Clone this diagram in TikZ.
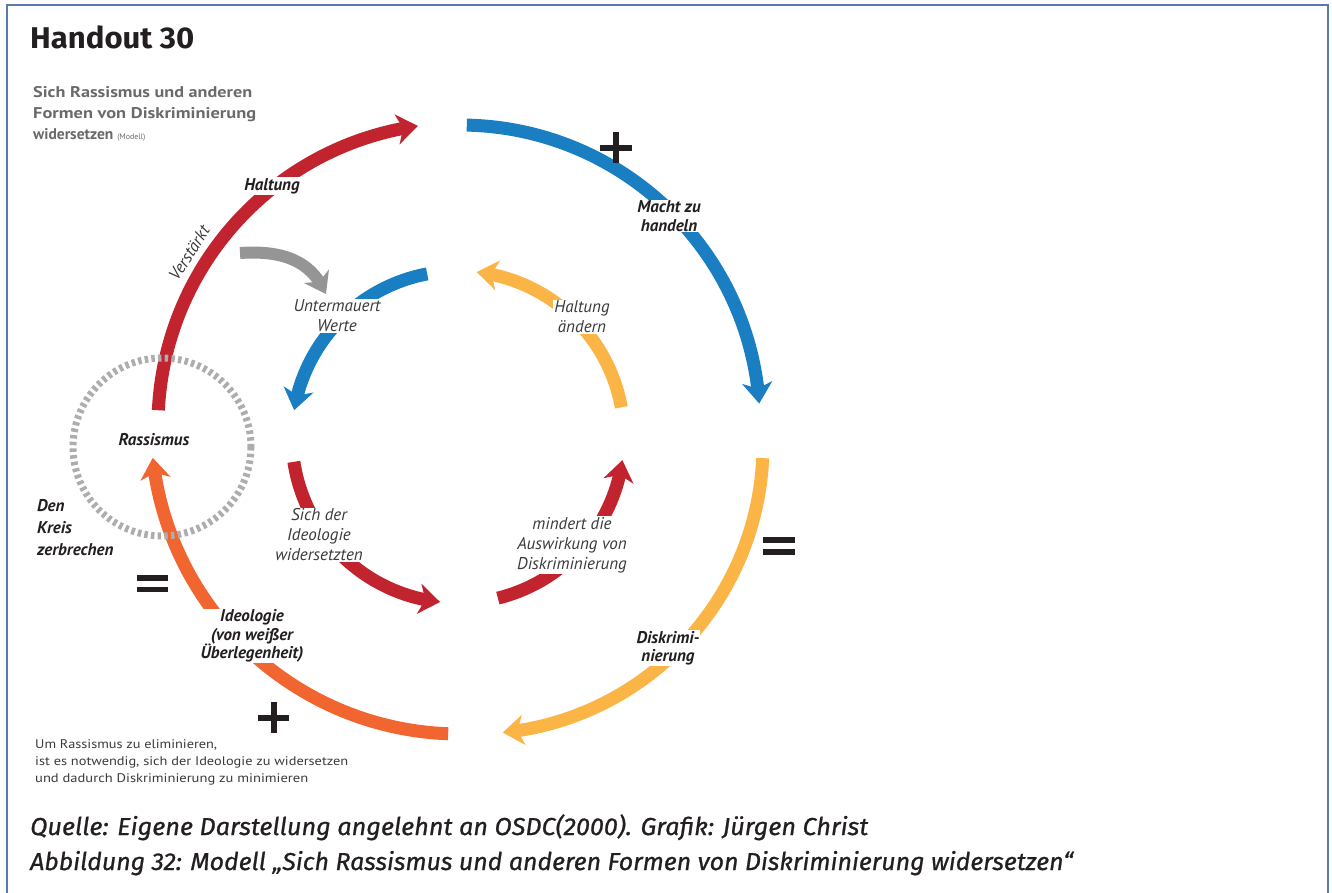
\documentclass[tikz,border=0pt]{standalone}
\usepackage{graphicx}
\usepackage{fontspec}
\setmainfont{PT Sans}
\newfontfamily\headfont{Fira Sans}
\newfontfamily\capfont{Fira Sans}[FakeBold=0.8]
\usetikzlibrary{arrows.meta,bending,calc}

\definecolor{frameblue}{HTML}{5B7BA9}
\definecolor{cred}{HTML}{C1232F}
\definecolor{cblue}{HTML}{1A7EC2}
\definecolor{cyellow}{HTML}{FBB546}
\definecolor{corange}{HTML}{F06530}
\definecolor{cgray}{HTML}{959595}
\definecolor{dashgray}{HTML}{ADADAD}
\definecolor{ink}{HTML}{231F20}
\definecolor{softink}{HTML}{3A3A3A}
\definecolor{subgray}{HTML}{6A6A6A}

% stretch a line horizontally to a given width, keeping its height
\newcommand\fitw[2]{\resizebox{#1}{\height}{#2}}

\tikzset{
  flow/.style={line width=13pt, -{Stealth[length=21pt,width=30pt,inset=6pt]}},
  lbl/.style={font=\fontsize{17}{20}\selectfont\itshape, text=softink,
              align=center, fill=white, inner sep=1pt},
  key/.style={font=\fontsize{17}{18.5}\selectfont\bfseries\itshape, text=ink,
              align=center, fill=white, inner sep=1pt},
  plain/.style={anchor=base west, inner sep=0pt},
  sign/.style={fill=ink},
}

\begin{document}
\begin{tikzpicture}[x=1pt,y=-1pt]
\useasboundingbox (0,0) rectangle (1332,892);

% page frame
\draw[frameblue, line width=2.4pt] (7,5.2) rectangle (1328,905);

% title and heading
\node[plain, text=ink] (title) at (30,48)
  {\headfont\bfseries\fontsize{30}{30}\selectfont\fitw{164pt}{Handout 30}};
\node[plain, text=subgray, font=\fontsize{15.5}{18}\selectfont\bfseries] (sub1) at (33,97)
  {\fitw{219pt}{Sich Rassismus und anderen}};
\node[plain, text=subgray, font=\fontsize{15.5}{18}\selectfont\bfseries] (sub2) at (33,118)
  {\fitw{223pt}{Formen von Diskriminierung}};
\node[plain, text=subgray, font=\fontsize{15.5}{18}\selectfont\bfseries] (sub3) at (33,139)
  {widersetzen {\fontsize{8}{8}\selectfont\mdseries(Modell)}};

% centres of the two rings and of the dashed circle
\coordinate (O) at (460,425);
\coordinate (Y) at (474,445);
\coordinate (I) at (458,437);
\coordinate (R) at (162,447);

% outer ring
\draw[flow, cred]    (O) ++(182.8:302) arc[start angle=182.8, end angle=262,   radius=302];
\draw[flow, cblue]   (O) ++(271.3:300) arc[start angle=271.3, end angle=355.9, radius=300];
\draw[flow, cyellow] (Y) ++(2.6:289)   arc[start angle=2.6,   end angle=84.3,  radius=289];
\draw[flow, corange] (O) ++(92.2:309)  arc[start angle=92.2,  end angle=173.9, radius=309];

% inner ring
\draw[flow, cblue]   (I) ++(259.3:166) arc[start angle=259.3, end angle=189.3, radius=166];
\draw[flow, cyellow] (I) ++(349.7:166) arc[start angle=349.7, end angle=276.5, radius=166];
\draw[flow, cred]    (I) ++(171.4:166) arc[start angle=171.4, end angle=96.2,  radius=166];
\draw[flow, cred]    (I) ++(76.1:166)  arc[start angle=76.1,  end angle=8,     radius=166];

% grey link from the outer to the inner ring
\coordinate (g0) at (240,253);
\coordinate (g1) at (326,294);
\draw[line width=12pt, cgray, -{Stealth[length=20pt,width=28pt,inset=6pt]}]
  (g0) .. controls (285,250) and (312,262) .. (g1);

% dashed circle round "Rassismus"
\draw[dashgray, line width=7pt, dash pattern=on 3.5pt off 3.2pt] (R) circle[radius=89];

% labels on the rings
\coordinate (vpos) at ($(O)+(212.4:315)$);
\node[lbl, fill=none, anchor=base, rotate=57.6, inner sep=0pt] (verst) at (vpos) {Verstärkt};
\node[key] (haltung) at (272,186) {Haltung};
\node[key] (macht) at (669,216) {Macht zu\\handeln};
\node[lbl] (unterm) at (337,316) {Untermauert\\Werte};
\node[lbl] (haltand) at (582,317) {Haltung\\ändern};
\node[key, fill=none] (rass) at (154,440) {Rassismus};
\node[lbl] (sichder) at (319,535) {Sich der\\Ideologie\\widersetzten};
\node[lbl] (mindert) at (572,545) {mindert die\\Auswirkung von\\Diskriminierung};
\node[key] (diskr) at (668,648) {Diskrimi-\\nierung};
\node[key] (ideol) at (252,636) {Ideologie\\(von weißer\\Überlegenheit)};

% "Den Kreis zerbrechen"
\node[plain, text=ink, font=\fontsize{17}{18}\selectfont\bfseries\itshape] (den) at (37,511) {Den};
\node[plain, text=ink, font=\fontsize{17}{18}\selectfont\bfseries\itshape] (kreis) at (37,533) {Kreis};
\node[plain, text=ink, font=\fontsize{17}{18}\selectfont\bfseries\itshape] (zerb) at (37,555) {zerbrechen};

% plus and equal signs
\fill[sign] (613,132) rectangle (619,163);
\fill[sign] (600,144.5) rectangle (632,150.5);
\fill[sign] (271,702) rectangle (277,733);
\fill[sign] (258,714.5) rectangle (289,720.5);
\fill[sign] (137,575) rectangle (168,580.5);
\fill[sign] (137,586.5) rectangle (168,592);
\fill[sign] (763,537) rectangle (795,542.5);
\fill[sign] (763,549) rectangle (795,554.5);

% note at the bottom left
\node[plain, text=softink, font=\fontsize{12.5}{14}\selectfont] (note1) at (35,748)
  {\fitw{182pt}{Um Rassismus zu eliminieren,}};
\node[plain, text=softink, font=\fontsize{12.5}{14}\selectfont] (note2) at (35,765)
  {\fitw{313pt}{ist es notwendig, sich der Ideologie zu widersetzen}};
\node[plain, text=softink, font=\fontsize{12.5}{14}\selectfont] (note3) at (35,782)
  {\fitw{273pt}{und dadurch Diskriminierung zu minimieren}};

% caption
\node[plain, text=ink, font=\capfont\itshape\fontsize{24.5}{26}\selectfont] (src) at (30,835)
  {\fitw{838pt}{Quelle: Eigene Darstellung angelehnt an OSDC(2000). Grafik: Jürgen Christ}};
\node[plain, text=ink, font=\capfont\itshape\fontsize{24.5}{26}\selectfont] (fig) at (30,870)
  {\fitw{1043pt}{Abbildung 32: Modell „Sich Rassismus und anderen Formen von Diskriminierung widersetzen“}};
\end{tikzpicture}
\end{document}
